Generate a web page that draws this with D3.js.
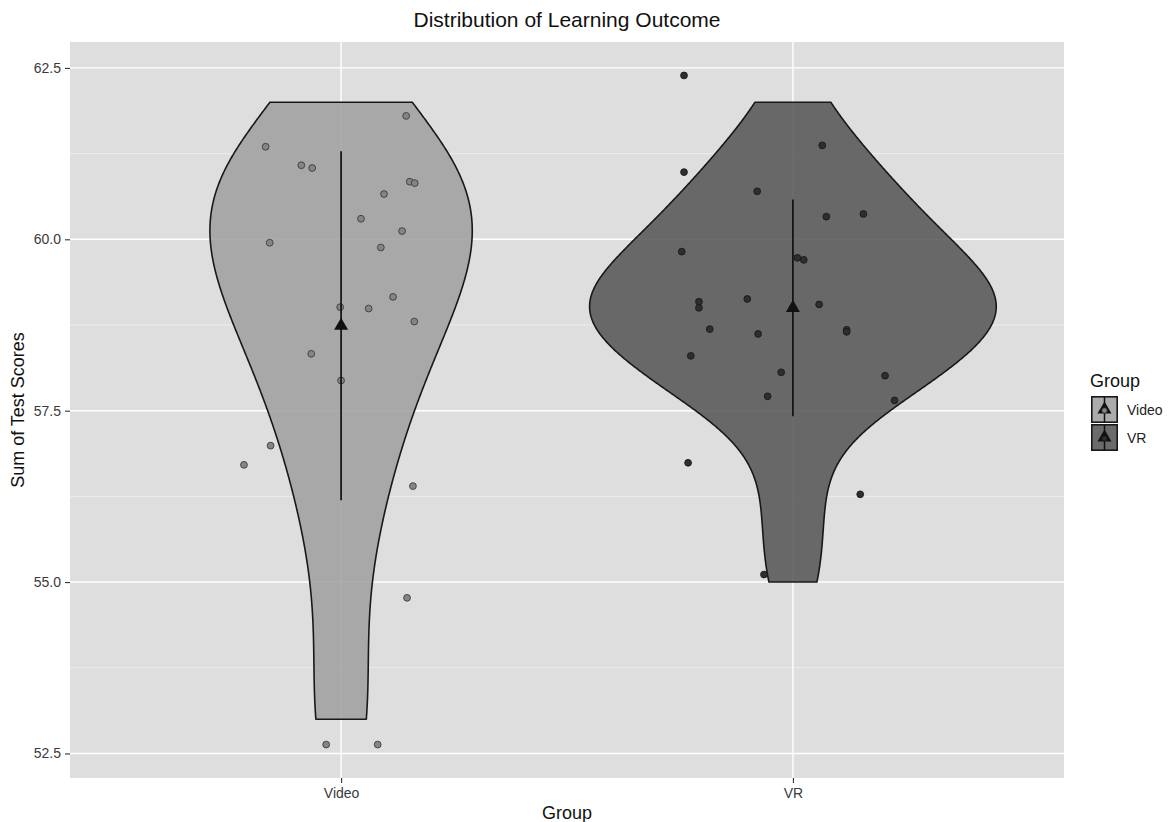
<!DOCTYPE html>
<html>
<head>
<meta charset="utf-8">
<script src="https://cdn.jsdelivr.net/npm/d3@7"></script>
<style>
  body { margin: 0; background: #ffffff; }
  text { font-family: "Liberation Sans", Arial, Helvetica, sans-serif; }
</style>
</head>
<body>
<svg id="chart" width="1170" height="822"></svg>
<script>
// ---- data -------------------------------------------------------------
const groups = ["Video", "VR"];

// plotted (height-jittered) test-score sums; the recorded score is the nearest integer
const videoY = [61.80, 61.35, 61.08, 61.04, 60.84, 60.82, 60.66, 60.30, 60.12, 59.95, 59.88,
                59.16, 59.01, 58.99, 58.80, 58.33, 57.94, 56.99, 56.71, 56.40, 54.77, 52.63, 52.63];
// horizontal jitter of each point, in category units
const videoJitter = [0.144, -0.167, -0.088, -0.064, 0.152, 0.163, 0.095, 0.044, 0.135, -0.158, 0.088,
                     0.115, -0.002, 0.061, 0.162, -0.066, 0.000, -0.156, -0.215, 0.159, 0.146, -0.033, 0.081];

const vrY = [62.39, 61.37, 60.98, 60.70, 60.33, 60.37, 59.82, 59.73, 59.70, 59.09, 59.00, 59.13, 59.05,
             58.69, 58.62, 58.68, 58.65, 58.30, 58.06, 58.01, 57.71, 57.65, 56.74, 56.28, 55.11];
const vrJitter = [-0.241, 0.065, -0.241, -0.079, 0.074, 0.156, -0.246, 0.010, 0.024, -0.208, -0.208, -0.101, 0.058,
                  -0.184, -0.077, 0.119, 0.119, -0.226, -0.026, 0.204, -0.056, 0.225, -0.232, 0.149, -0.064];

const yTicks = [52.5, 55.0, 57.5, 60.0, 62.5];
const yMinorTicks = [53.75, 56.25, 58.75, 61.25];

// ---- styling ----------------------------------------------------------
const fills = { "Video": "#a0a0a0", "VR": "#585858" };
const pointFills = { "Video": "#858585", "VR": "#2e2e2e" };
const pointStrokes = { "Video": "#3c3c3c", "VR": "#1a1a1a" };

const W = 1170, H = 822;
const panel = { left: 70, right: 1064, top: 42, bottom: 778 };

const svg = d3.select("#chart");

// ---- derived statistics ------------------------------------------------
const seriesData = {
  "Video": videoY.map((y, i) => ({ y, jit: videoJitter[i], score: Math.round(y) })),
  "VR": vrY.map((y, i) => ({ y, jit: vrJitter[i], score: Math.round(y) }))
};

function nrd0(values) {
  const n = values.length;
  const sd = d3.deviation(values);
  const sorted = values.slice().sort(d3.ascending);
  const iqr = d3.quantileSorted(sorted, 0.75) - d3.quantileSorted(sorted, 0.25);
  let lo = Math.min(sd, iqr / 1.34);
  if (!(lo > 0)) lo = sd || Math.abs(sorted[0]) || 1;
  return 0.9 * lo * Math.pow(n, -0.2);
}

function kde(values, bw, from, to, n) {
  const out = [];
  const c = 1 / (values.length * bw * Math.sqrt(2 * Math.PI));
  for (let i = 0; i < n; i++) {
    const t = from + (to - from) * i / (n - 1);
    let s = 0;
    for (const v of values) {
      const z = (t - v) / bw;
      s += Math.exp(-0.5 * z * z);
    }
    out.push({ t, d: s * c });
  }
  return out;
}

const stats = {};
groups.forEach(g => {
  const scores = seriesData[g].map(d => d.score);
  const bw = nrd0(scores);
  const [lo, hi] = d3.extent(scores);
  stats[g] = {
    mean: d3.mean(scores),
    sd: d3.deviation(scores),
    dens: kde(scores, bw, lo, hi, 512)
  };
});
const maxDens = d3.max(groups, g => d3.max(stats[g].dens, d => d.d));

// ---- scales ------------------------------------------------------------
const allY = videoY.concat(vrY);
const [yLo, yHi] = d3.extent(allY);
const pad = (yHi - yLo) * 0.05;
const y = d3.scaleLinear().domain([yLo - pad, yHi + pad]).range([panel.bottom, panel.top]);
const x = d3.scalePoint().domain(groups).range([panel.left, panel.right]).padding(0.6);
const unit = x.step();

// ---- panel background & grid -------------------------------------------
svg.append("rect")
  .attr("x", panel.left).attr("y", panel.top)
  .attr("width", panel.right - panel.left).attr("height", panel.bottom - panel.top)
  .attr("fill", "#dedede");

const grid = svg.append("g");
grid.selectAll("line.minor").data(yMinorTicks).join("line")
  .attr("x1", panel.left).attr("x2", panel.right)
  .attr("y1", d => y(d)).attr("y2", d => y(d))
  .attr("stroke", "#f4f4f4").attr("stroke-width", 0.7);
grid.selectAll("line.major").data(yTicks).join("line")
  .attr("x1", panel.left).attr("x2", panel.right)
  .attr("y1", d => y(d)).attr("y2", d => y(d))
  .attr("stroke", "#ffffff").attr("stroke-width", 1.4);
grid.selectAll("line.vmajor").data(groups).join("line")
  .attr("x1", d => x(d)).attr("x2", d => x(d))
  .attr("y1", panel.top).attr("y2", panel.bottom)
  .attr("stroke", "#ffffff").attr("stroke-width", 1.4);

// ---- violins -----------------------------------------------------------
const violinLine = d3.line().x(d => d[0]).y(d => d[1]);
groups.forEach(g => {
  const cx = x(g);
  const dens = stats[g].dens;
  const half = d => d.d / maxDens * 0.45 * unit;
  const left = dens.map(d => [cx - half(d), y(d.t)]);
  const right = dens.slice().reverse().map(d => [cx + half(d), y(d.t)]);
  svg.append("path")
    .attr("d", violinLine(left.concat(right)) + "Z")
    .attr("fill", fills[g]).attr("fill-opacity", 0.88)
    .attr("stroke", "#181818").attr("stroke-width", 1.6)
    .attr("stroke-linejoin", "round");
});

// ---- jittered points ----------------------------------------------------
groups.forEach(g => {
  svg.append("g").selectAll("circle").data(seriesData[g]).join("circle")
    .attr("cx", d => x(g) + d.jit * unit)
    .attr("cy", d => y(d.y))
    .attr("r", 3.4)
    .attr("fill", pointFills[g])
    .attr("stroke", pointStrokes[g]).attr("stroke-width", 0.9);
});

// ---- mean +/- sd summaries -----------------------------------------------
const tri = d3.symbol().type(d3.symbolTriangle).size(85);
groups.forEach(g => {
  const s = stats[g];
  svg.append("line")
    .attr("x1", x(g)).attr("x2", x(g))
    .attr("y1", y(s.mean + s.sd)).attr("y2", y(s.mean - s.sd))
    .attr("stroke", "#111").attr("stroke-width", 1.7);
  svg.append("path")
    .attr("d", tri())
    .attr("transform", `translate(${x(g)},${y(s.mean)})`)
    .attr("fill", "#111");
});

// ---- axes ---------------------------------------------------------------
const yAxis = svg.append("g").attr("transform", `translate(${panel.left},0)`)
  .call(d3.axisLeft(y).tickValues(yTicks).tickFormat(d3.format(".1f")).tickSize(5).tickPadding(4));
const xAxis = svg.append("g").attr("transform", `translate(0,${panel.bottom})`)
  .call(d3.axisBottom(x).tickSize(5).tickPadding(5));
[yAxis, xAxis].forEach(ax => {
  ax.select(".domain").remove();
  ax.selectAll(".tick line").attr("stroke", "#333").attr("stroke-width", 1.1);
  ax.selectAll(".tick text").attr("fill", "#3a3a3a").style("font-size", "14px")
    .style("font-family", "'Liberation Sans', Arial, sans-serif");
});

// ---- titles -------------------------------------------------------------
const midX = (panel.left + panel.right) / 2;
svg.append("text").attr("x", midX).attr("y", 27).attr("text-anchor", "middle")
  .style("font-size", "21px").attr("fill", "#111").text("Distribution of Learning Outcome");
svg.append("text").attr("x", midX).attr("y", 819).attr("text-anchor", "middle")
  .style("font-size", "18px").attr("fill", "#111").text("Group");
svg.append("text")
  .attr("transform", `translate(24,${(panel.top + panel.bottom) / 2}) rotate(-90)`)
  .attr("text-anchor", "middle")
  .style("font-size", "18px").attr("fill", "#111").text("Sum of Test Scores");

// ---- legend -------------------------------------------------------------
const legend = svg.append("g").attr("transform", "translate(1090,0)");
legend.append("text").attr("x", 0).attr("y", 387)
  .style("font-size", "18px").attr("fill", "#111").text("Group");
const keySize = 27;
groups.forEach((g, i) => {
  const ky = 396 + i * 28;
  const k = legend.append("g").attr("transform", `translate(1,${ky})`);
  k.append("rect").attr("width", keySize).attr("height", keySize).attr("fill", "#f2f2f2");
  k.append("rect").attr("x", 0.8).attr("y", 0.8).attr("width", keySize - 1.6).attr("height", keySize - 1.6)
    .attr("fill", fills[g]).attr("fill-opacity", 0.88)
    .attr("stroke", "#181818").attr("stroke-width", 1.6);
  k.append("line").attr("x1", keySize / 2).attr("x2", keySize / 2).attr("y1", 1).attr("y2", keySize - 1)
    .attr("stroke", "#111").attr("stroke-width", 1.5);
  k.append("path").attr("d", tri()).attr("transform", `translate(${keySize / 2},${keySize / 2})`)
    .attr("fill", "#111");
  k.append("circle").attr("cx", keySize / 2).attr("cy", keySize / 2 + 1).attr("r", 2.6)
    .attr("fill", pointFills[g]).attr("stroke", pointStrokes[g]).attr("stroke-width", 0.8);
  legend.append("text").attr("x", 37).attr("y", ky + keySize / 2 + 5)
    .style("font-size", "14px").attr("fill", "#222").text(g);
});
</script>
</body>
</html>
